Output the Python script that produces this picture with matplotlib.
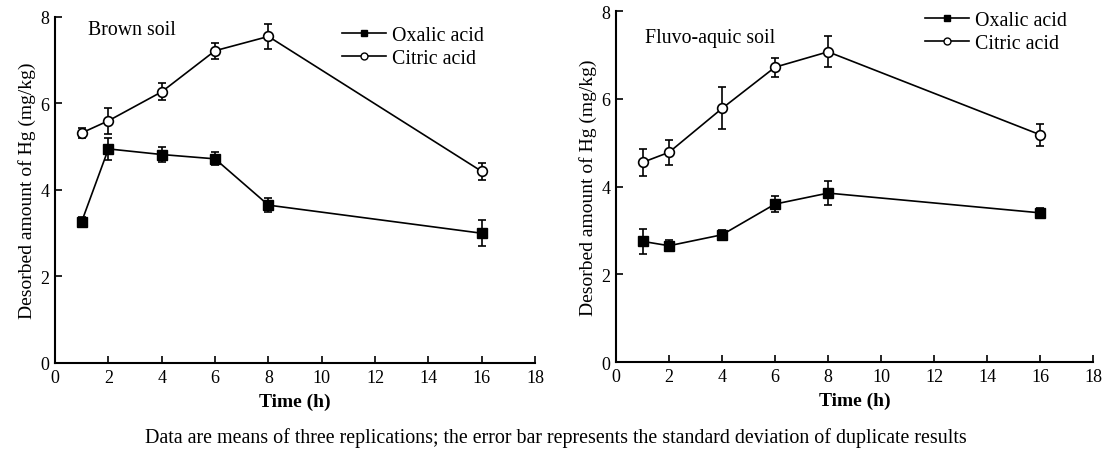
# Desorbed Hg vs time for two soils, oxalic vs citric acid
import numpy as np
import matplotlib.pyplot as plt
from matplotlib.lines import Line2D

plt.rcParams['font.family'] = ['Liberation Serif', 'DejaVu Serif']

time_h = [1, 2, 4, 6, 8, 16]

# Brown soil
brown_oxalic = [3.27, 4.95, 4.82, 4.72, 3.65, 3.00]
brown_oxalic_sd = [0.10, 0.25, 0.18, 0.15, 0.17, 0.30]
brown_citric = [5.32, 5.60, 6.27, 7.22, 7.55, 4.43]
brown_citric_sd = [0.12, 0.30, 0.20, 0.18, 0.28, 0.20]

# Fluvo-aquic soil
fluvo_oxalic = [2.75, 2.65, 2.90, 3.60, 3.85, 3.40]
fluvo_oxalic_sd = [0.28, 0.13, 0.10, 0.18, 0.28, 0.12]
fluvo_citric = [4.55, 4.78, 5.78, 6.72, 7.07, 5.18]
fluvo_citric_sd = [0.30, 0.28, 0.48, 0.22, 0.35, 0.25]

panels = [
    ("Brown soil", brown_oxalic, brown_oxalic_sd, brown_citric, brown_citric_sd,
     [0.0495, 0.1947, 0.4317, 0.7655], (1.24, 7.70), (0.598, 0.975)),
    ("Fluvo-aquic soil", fluvo_oxalic, fluvo_oxalic_sd, fluvo_citric, fluvo_citric_sd,
     [0.554, 0.1969, 0.429, 0.7765], (1.09, 7.40), (0.648, 1.0)),
]

fig = plt.figure(figsize=(11.12, 4.52), dpi=100)

for title, ox, ox_sd, ci, ci_sd, rect, txt_pos, leg_pos in panels:
    ax = fig.add_axes(rect)
    ax.errorbar(time_h, ox, yerr=ox_sd, color='black', marker='s', ms=6.5,
                mfc='black', mec='black', lw=1.2, elinewidth=1.2, capsize=3,
                capthick=1.2)
    ax.errorbar(time_h, ci, yerr=ci_sd, color='black', marker='o', ms=7,
                mfc='white', mec='black', mew=1.2, lw=1.2, elinewidth=1.2,
                capsize=3, capthick=1.2)
    ax.set_xlim(0, 18)
    ax.set_ylim(0, 8)
    ax.set_xticks(np.arange(0, 19, 2))
    ax.set_yticks(np.arange(0, 9, 2))
    ax.spines['top'].set_visible(False)
    ax.spines['right'].set_visible(False)
    for s in ('left', 'bottom'):
        ax.spines[s].set_linewidth(1.5)
    ax.tick_params(direction='in', length=5, width=1.2, labelsize=13, pad=4)
    ax.set_xlabel('Time (h)', fontsize=14, fontweight='bold', labelpad=5)
    ax.set_ylabel('Desorbed amount of Hg (mg/kg)', fontsize=14, labelpad=3)
    ax.text(txt_pos[0], txt_pos[1], title, fontsize=14.3, va='center')

    handles = [
        Line2D([], [], color='black', lw=1.2, marker='s', ms=5, mfc='black'),
        Line2D([], [], color='black', lw=1.2, marker='o', ms=5, mfc='white'),
    ]
    ax.legend(handles, ['Oxalic acid', 'Citric acid'], loc='upper left',
              bbox_to_anchor=leg_pos, frameon=False, fontsize=14.3,
              handlelength=2.2, handletextpad=0.3, borderpad=0,
              borderaxespad=0, labelspacing=0.2)

fig.text(0.5, 0.031, 'Data are means of three replications; the error bar represents '
         'the standard deviation of duplicate results', ha='center', va='center',
         fontsize=14.4)

fig.savefig('out.png', dpi=100)
